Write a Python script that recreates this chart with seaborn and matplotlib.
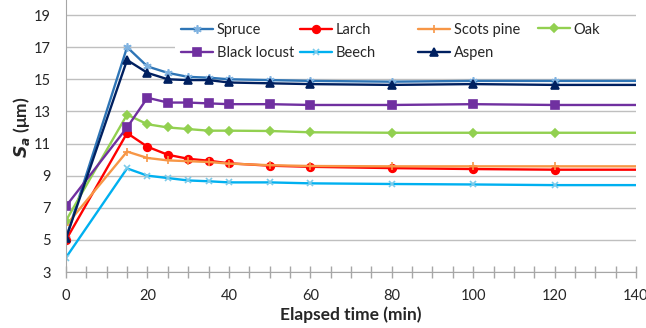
import matplotlib
matplotlib.use("Agg")
import matplotlib.pyplot as plt
import seaborn as sns
from matplotlib.ticker import MultipleLocator
from matplotlib.patches import Rectangle
from matplotlib.legend import Legend

# elapsed time (min); last point only carries the line to the axis end
time_min = [0, 15, 20, 25, 30, 35, 40, 50, 60, 80, 100, 120, 140]

spruce = [5.1, 17.0, 15.8, 15.4, 15.15, 15.1, 15.0, 14.95, 14.9, 14.85, 14.9, 14.9, 14.9]
larch = [5.0, 11.65, 10.8, 10.3, 10.05, 9.93, 9.77, 9.62, 9.55, 9.47, 9.41, 9.37, 9.37]
scots_pine = [5.9, 10.5, 10.1, 9.95, 9.9, 9.85, 9.75, 9.65, 9.6, 9.58, 9.58, 9.58, 9.58]
oak = [6.2, 12.8, 12.2, 12.0, 11.9, 11.8, 11.8, 11.78, 11.7, 11.67, 11.67, 11.67, 11.67]
black_locust = [7.1, 12.0, 13.85, 13.55, 13.55, 13.5, 13.45, 13.45, 13.4, 13.4, 13.45, 13.4, 13.4]
beech = [3.9, 9.45, 9.0, 8.85, 8.7, 8.65, 8.58, 8.58, 8.52, 8.48, 8.45, 8.41, 8.41]
aspen = [5.1, 16.2, 15.4, 15.0, 14.95, 14.95, 14.8, 14.75, 14.7, 14.65, 14.7, 14.65, 14.65]

series = [
    ("Spruce", spruce, "#2E75B6", "#7FB2E0", (6, 2, 0), 6),
    ("Larch", larch, "#FF0000", "#FF0000", "o", 5.5),
    ("Scots pine", scots_pine, "#F79646", "#F79646", "+", 6),
    ("Oak", oak, "#92D050", "#92D050", "D", 4),
    ("Black locust", black_locust, "#7030A0", "#7030A0", "s", 5.5),
    ("Beech", beech, "#00B0F0", "#7CCBEA", "x", 5),
    ("Aspen", aspen, "#002060", "#002060", "^", 5.5),
]

# legend columns as laid out in the reference (left edge px, row layout)
legend_cols = [["Spruce", "Black locust"], ["Larch", "Beech"], ["Scots pine", "Aspen"], ["Oak"]]
legend_x_px = [181, 300, 418, 538]

sns.set_style("white")
plt.rcParams['font.family'] = ['Lato', 'DejaVu Sans']

fig = plt.figure(figsize=(6.46, 3.28), dpi=100)
ax = fig.add_axes([66 / 646, 56 / 328, 570 / 646, 18 * 16.06 / 328])

for name, vals, lc, mc, mk, ms in series:
    sns.lineplot(x=time_min, y=vals, ax=ax, color=lc, marker=mk, markersize=ms,
                 markerfacecolor=mc, markeredgecolor=mc, markeredgewidth=1.2,
                 linewidth=1.7, label=name, markevery=slice(0, -1))

ax.set_xlim(0, 140)
ax.set_ylim(3, 21)
ax.set_yticks(range(3, 20, 2))
ax.xaxis.set_major_locator(MultipleLocator(20))
ax.xaxis.set_minor_locator(MultipleLocator(5))
ax.yaxis.grid(True, color="#BFBFBF", linewidth=1)
ax.set_axisbelow(True)
for s in ["top", "right"]:
    ax.spines[s].set_visible(False)
for s in ["left", "bottom"]:
    ax.spines[s].set_color("#A6A6A6")
ax.tick_params(axis="x", which="both", direction="inout", length=8, width=1,
               color="#A6A6A6", bottom=True, pad=8, labelsize=10.5)
ax.tick_params(axis="y", length=0, pad=11, labelsize=10.5)

ax.set_xlabel("Elapsed time (min)", fontsize=12.5, fontweight="bold", labelpad=3)
ax.set_ylabel(r"$\mathbfit{S}_{\mathbfit{a}}$ (μm)", fontsize=12.5, fontweight="bold", labelpad=1)

handles, labels = ax.get_legend_handles_labels()
hmap = dict(zip(labels, handles))
ax.get_legend().remove()

# white background behind the legend block
ax.add_patch(Rectangle(((175 - 66) / 570, (272 - 64) / 289.1), (640 - 175) / 570, 47 / 289.1,
                       transform=ax.transAxes, facecolor="white", edgecolor="none",
                       zorder=1, clip_on=False))

for col, px in zip(legend_cols, legend_x_px):
    yc = 41.5 if len(col) == 2 else 29.5
    leg = Legend(ax, [hmap[n] for n in col], col, loc="center left",
                 bbox_to_anchor=((px - 66) / 570, (272 - yc) / 289.1),
                 bbox_transform=ax.transAxes,
                 frameon=False, fontsize=10.5, handlelength=2.2, handletextpad=0.25,
                 labelspacing=0.6, borderpad=0, borderaxespad=0)
    ax.add_artist(leg)

fig.savefig("out.png", dpi=100)
